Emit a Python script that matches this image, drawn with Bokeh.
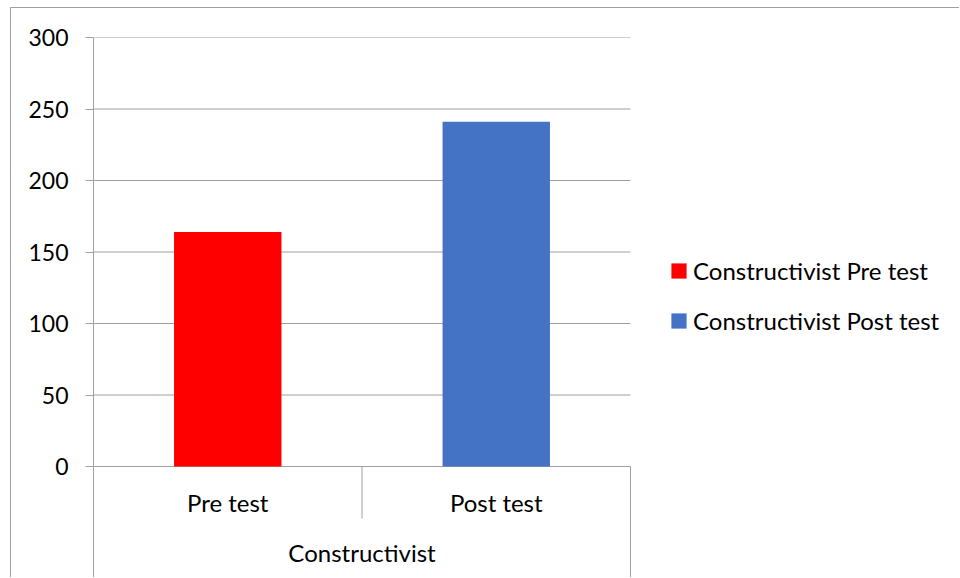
from bokeh.plotting import figure
from bokeh.models import Range1d, FixedTicker, Legend, LegendItem
from bokeh.embed import file_html
from bokeh.resources import INLINE
from bokeh.core.properties import value

# ---- data ----
group = "Constructivist"
categories = ["Pre test", "Post test"]
scores = [164, 241]
colors = ["#FF0000", "#4472C4"]
legend_labels = ["Constructivist Pre test", "Constructivist Post test"]
y_ticks = [0, 50, 100, 150, 200, 250, 300]

# ---- layout (pixels) ----
OFF_X, OFF_Y = 10, 7          # outer chart box position on the page
W, H = 960 - OFF_X - 1, 578 - OFF_Y - 1
LEFT, TOP = 93 - OFF_X - 1, 37 - OFF_Y - 1
PX_PER_CAT = 268.5
PX_PER_UNIT = 1.43
FONT = "Lato"
FS = "24px"
TICK_FS = "23px"
GRID = "#a0a0a0"

frame_w = W - LEFT
frame_h = H - TOP
x_end = frame_w / PX_PER_CAT
y_top = y_ticks[-1]
y_start = y_top - frame_h / PX_PER_UNIT

p = figure(width=W, height=H, output_backend="svg", toolbar_location=None,
           x_range=Range1d(0, x_end), y_range=Range1d(y_start, y_top),
           min_border_left=LEFT, min_border_top=TOP, min_border_right=0,
           min_border_bottom=0, x_axis_location=None)
p.grid.visible = False
p.outline_line_color = None
p.background_fill_color = "white"
p.border_fill_color = "white"
p.styles = {"border-left": "1px solid #a0a0a0", "border-top": "1px solid #a0a0a0",
            "margin-left": f"{OFF_X}px", "margin-top": f"{OFF_Y}px"}

ax = p.yaxis[0]
ax.ticker = FixedTicker(ticks=y_ticks)
ax.axis_line_color = GRID
ax.major_tick_line_color = GRID
ax.major_tick_out = 8
ax.major_tick_in = 0
ax.minor_tick_line_color = None
ax.major_label_text_font = FONT
ax.major_label_text_font_size = TICK_FS
ax.major_label_text_color = "black"
ax.major_label_standoff = 17

ncat = len(categories)
# gridlines across plot area
for t in y_ticks[1:]:
    p.segment(x0=0, x1=ncat, y0=t, y1=t, line_color=GRID, line_width=1)
# category baseline
p.segment(x0=0, x1=ncat, y0=0, y1=0, line_color=GRID, line_width=1)
# separators
sep_short = -(518 - 466) / PX_PER_UNIT
for i in range(1, ncat):
    p.segment(x0=i, x1=i, y0=0, y1=sep_short, line_color=GRID, line_width=1)
p.segment(x0=ncat, x1=ncat, y0=0, y1=y_start, line_color=GRID, line_width=1)

# bars
renderers = []
for i, (c, v, col) in enumerate(zip(categories, scores, colors)):
    r = p.vbar(x=[i + 0.5], top=[v], bottom=0, width=0.4, fill_color=col, line_color=None)
    renderers.append(r)

# category labels
cat_y = -(502 - 466) / PX_PER_UNIT
p.text(x=[i + 0.5 for i in range(ncat)], y=[cat_y] * ncat, text=categories,
       text_font=value(FONT), text_font_size=FS, text_color="black",
       text_align="center", text_baseline="middle")
grp_y = -(552 - 466) / PX_PER_UNIT
p.text(x=[ncat / 2], y=[grp_y], text=[group],
       text_font=value(FONT), text_font_size=FS, text_color="black",
       text_align="center", text_baseline="middle")

legend = Legend(items=[LegendItem(label=l, renderers=[r]) for l, r in zip(legend_labels, renderers)],
                location=(576, 243), orientation="vertical",
                glyph_width=19, glyph_height=19, label_height=19, spacing=21,
                padding=0, margin=0, border_line_color=None, background_fill_alpha=0,
                label_standoff=5, label_text_font=FONT, label_text_font_size=FS,
                label_text_color="black")
p.add_layout(legend)

open("out.html", "w").write(file_html(p, INLINE))
